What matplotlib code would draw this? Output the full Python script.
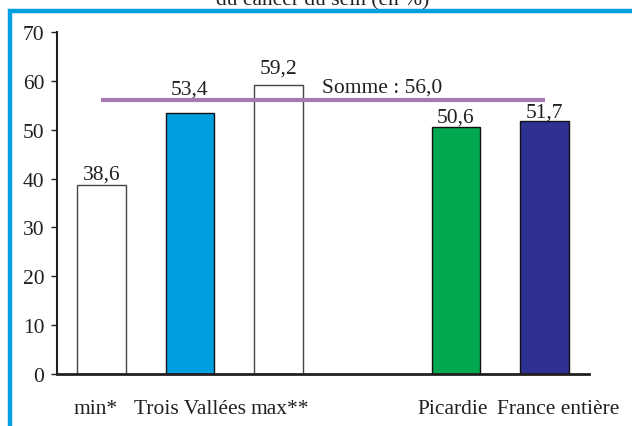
import matplotlib
matplotlib.use("Agg")
import matplotlib.pyplot as plt
from matplotlib.patches import Rectangle
from matplotlib.transforms import ScaledTranslation

# Données
categories = ["min*", "Trois Vallées", "max**", "", "Picardie", "France entière"]
values = [38.6, 53.4, 59.2, None, 50.6, 51.7]
value_labels = ["38,6", "53,4", "59,2", "", "50,6", "51,7"]
bar_colors = ["white", "#00a0e0", "white", None, "#00a84f", "#2e3192"]
edge_colors = ["#444444", "#111111", "#444444", None, "#111111", "#111111"]
somme_value = 56.0
somme_label = "Somme : 56,0"
y_ticks = [0, 10, 20, 30, 40, 50, 60, 70]
title_text = "du cancer du sein (en %)"

# décalages des étiquettes (pixels)
label_shift_px = [-6, 0, 1, 0, -3, 14]
value_gap_px = [7, 20, 12, 0, 5, 5]

plt.rcParams["font.family"] = ["Liberation Serif", "DejaVu Serif"]
FS = 15.5

W, H, DPI = 632, 427, 100
fig = plt.figure(figsize=(W / DPI, H / DPI), dpi=DPI)

# cadre bleu (seuls les bords gauche et haut sont visibles)
frame = Rectangle((9.5 / W, -0.2), 1.2, 1 - 12 / H + 0.2, transform=fig.transFigure,
                  fill=False, edgecolor="#00a0e0", linewidth=3.2, clip_on=False)
fig.add_artist(frame)

# titre partiellement coupé en haut
fig.text(323 / W, 1 - 5 / H, title_text, ha="center", va="baseline", fontsize=FS,
         color="#231f20")

ax = fig.add_axes([57 / W, 1 - 375 / H, (589 - 57) / W, (375 - 33) / H])
ax.set_xlim(-0.5, len(categories) - 0.5)
ax.set_ylim(0, 70)

xs = [i for i, v in enumerate(values) if v is not None]
for i in xs:
    ax.bar(i, values[i], width=0.55, color=bar_colors[i], edgecolor=edge_colors[i],
           linewidth=1.0, zorder=2)
    ax.annotate(value_labels[i], (i, values[i]),
                xytext=(0, value_gap_px[i] * 72 / DPI), textcoords="offset points",
                ha="center", va="baseline", fontsize=FS, color="#231f20")

# ligne de la somme
ax.plot([0, len(categories) - 1], [somme_value, somme_value], color="#a678b4",
        linewidth=3, solid_capstyle="butt", zorder=3)
ax.annotate(somme_label, (2.49, somme_value), xytext=(0, 9 * 72 / DPI),
            textcoords="offset points", ha="left", va="baseline", fontsize=FS,
            color="#231f20")

for side in ["top", "right"]:
    ax.spines[side].set_visible(False)
ax.spines["left"].set_color("#231f20")
ax.spines["bottom"].set_color("#231f20")
ax.spines["left"].set_linewidth(1.5)
ax.spines["bottom"].set_linewidth(2)

ax.set_yticks(y_ticks)
ax.set_yticklabels([str(t) for t in y_ticks], fontsize=FS, color="#231f20")
ax.tick_params(axis="y", direction="out", length=4, width=1, color="#231f20", pad=5)

ax.set_xticks(range(len(categories)))
ax.set_xticklabels(categories, fontsize=FS, color="#231f20")
ax.tick_params(axis="x", length=0, pad=18)
for lab, dx in zip(ax.get_xticklabels(), label_shift_px):
    lab.set_transform(lab.get_transform() + ScaledTranslation(dx / DPI, 0, fig.dpi_scale_trans))

fig.savefig("out.png", dpi=DPI, facecolor="white")
